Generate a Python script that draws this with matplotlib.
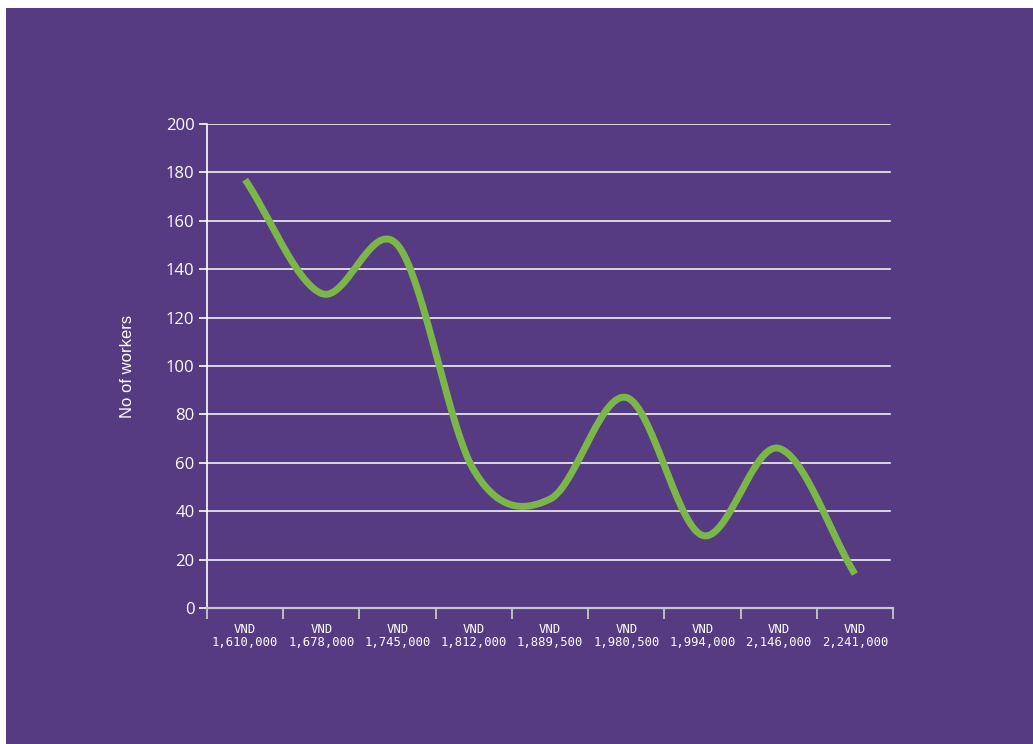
import numpy as np
import matplotlib.pyplot as plt
from matplotlib.patches import Rectangle

# data
wages = ["VND\n1,610,000", "VND\n1,678,000", "VND\n1,745,000", "VND\n1,812,000",
         "VND\n1,889,500", "VND\n1,980,500", "VND\n1,994,000", "VND\n2,146,000",
         "VND\n2,241,000"]
workers = [177, 130, 150, 57, 45, 87, 30, 66, 14]
y_ticks = [0, 20, 40, 60, 80, 100, 120, 140, 160, 180, 200]

purple = "#563a82"
green = "#7ab648"


def catmull_rom(x, y, n=40):
    # smoothed line like a spreadsheet "smooth line" option
    px = np.concatenate([[2 * x[0] - x[1]], x, [2 * x[-1] - x[-2]]])
    py = np.concatenate([[2 * y[0] - y[1]], y, [2 * y[-1] - y[-2]]])
    xs, ys = [], []
    t = np.linspace(0, 1, n)
    for i in range(1, len(px) - 2):
        for p, out in ((px, xs), (py, ys)):
            p0, p1, p2, p3 = p[i - 1], p[i], p[i + 1], p[i + 2]
            out.extend(0.5 * (2 * p1 + (-p0 + p2) * t
                              + (2 * p0 - 5 * p1 + 4 * p2 - p3) * t ** 2
                              + (-p0 + 3 * p1 - 3 * p2 + p3) * t ** 3))
    return np.array(xs), np.array(ys)


fig = plt.figure(figsize=(10.33, 7.44), dpi=100, facecolor="white")
fig.patches.append(Rectangle((6 / 1033, 0), 1, 1 - 8 / 744, transform=fig.transFigure,
                             facecolor=purple, edgecolor="none", zorder=-10))

ax = fig.add_axes([207 / 1033, 136 / 744, 686 / 1033, 484 / 744])
ax.set_facecolor(purple)

x = np.arange(len(workers), dtype=float)
sx, sy = catmull_rom(x, np.array(workers, dtype=float))
ax.plot(sx, sy, color=green, lw=5, solid_capstyle="butt", zorder=3)

ax.set_xlim(-0.5, len(workers) - 0.5)
ax.set_ylim(0, 200)
ax.set_yticks(y_ticks)
ax.set_yticklabels([str(v) for v in y_ticks], fontsize=12, family="Open Sans", color="white")
for v in y_ticks[1:]:
    ax.axhline(v, color="white", lw=1.1, zorder=1, xmax=0.995)

ax.set_xticks(np.arange(-0.5, len(workers)), minor=False)
ax.set_xticklabels([])
ax.set_xticks(x, minor=True)
ax.set_xticklabels(wages, minor=True, fontsize=8.8, family="DejaVu Sans Mono",
                   color="white", linespacing=0.95)
ax.tick_params(axis="x", which="major", length=8, width=1.3, color="#c8c8c8", direction="out")
ax.tick_params(axis="x", which="minor", length=0, pad=11)
ax.tick_params(axis="y", length=6, width=1.2, color="white", pad=3)

for s in ["top", "right"]:
    ax.spines[s].set_visible(False)
ax.spines["left"].set_color("white")
ax.spines["left"].set_linewidth(1.2)
ax.spines["bottom"].set_color("#c8c8c8")
ax.spines["bottom"].set_linewidth(1.6)

ax.set_ylabel("No of workers", fontsize=12, family="Liberation Sans", color="white", labelpad=22)

fig.savefig("out.png", dpi=100, facecolor="white")
